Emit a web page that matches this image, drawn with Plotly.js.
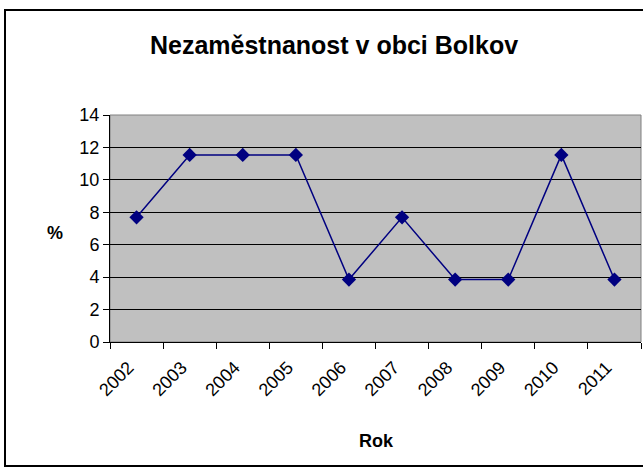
<!DOCTYPE html>
<html><head><meta charset="utf-8">
<script src="https://cdn.plot.ly/plotly-3.0.1.min.js"></script>
<style>html,body{margin:0;padding:0;background:#fff;}</style>
</head><body>
<div id="chart" style="width:643px;height:472px;"></div>
<script>
const years = ["2002","2003","2004","2005","2006","2007","2008","2009","2010","2011"];
const unemployment = [7.69, 11.54, 11.54, 11.54, 3.85, 7.69, 3.85, 3.85, 11.54, 3.85];
const yTicks = [0, 2, 4, 6, 8, 10, 12, 14];

const W = 643, H = 472;
const L = 110, R = 2, T = 115, B = 130;
const pw = W - L - R, ph = H - T - B;
const px = p => (p - L) / pw;
const py = p => (H - B - p) / ph;

const font = "Liberation Sans, Arial, sans-serif";

const trace = {
  x: years, y: unemployment, type: "scatter", mode: "lines+markers",
  line: {color: "#000080", width: 1.5},
  marker: {symbol: "diamond", size: 11, color: "#000080"},
  hoverinfo: "skip"
};

const layout = {
  width: W, height: H,
  margin: {l: L, r: R, t: T, b: B},
  paper_bgcolor: "#ffffff",
  plot_bgcolor: "#C0C0C0",
  showlegend: false,
  font: {family: font, color: "#000", size: 18},
  title: {
    text: "<b>Nezaměstnanost v obci Bolkov</b>",
    font: {family: font, size: 25, color: "#000"},
    x: 334 / W, xanchor: "center", xref: "container",
    y: 1 - 45 / H, yanchor: "middle", yref: "container"
  },
  xaxis: {
    type: "category", tickson: "boundaries", ticks: "outside", ticklen: 6,
    tickcolor: "#000", tickwidth: 1,
    showline: true, linecolor: "#000", linewidth: 1,
    showgrid: false, zeroline: false, tickangle: -45,
    ticklabelshift: -8, ticklabelstandoff: 7,
    tickfont: {family: font, size: 18, color: "#000"},
    range: [-0.5, 9.5], fixedrange: true
  },
  yaxis: {
    range: [0, 14], tickvals: yTicks, ticktext: yTicks.map(String),
    ticks: "outside", ticklen: 6, tickcolor: "#000", tickwidth: 1,
    showline: true, linecolor: "#000", linewidth: 1,
    showgrid: true, gridcolor: "#000", gridwidth: 1, zeroline: false,
    tickfont: {family: font, size: 18, color: "#000"},
    fixedrange: true
  },
  shapes: [
    {type: "rect", xref: "paper", yref: "paper", x0: 0, x1: 1, y0: 0, y1: 1,
     line: {color: "#808080", width: 1}, layer: "below"},
    {type: "rect", xref: "paper", yref: "paper",
     x0: px(5), x1: px(660), y0: py(466), y1: py(10),
     line: {color: "#000", width: 2}, fillcolor: "rgba(0,0,0,0)"}
  ],
  annotations: [
    {text: "<b>%</b>", xref: "paper", yref: "paper", x: px(55), y: py(233),
     xanchor: "center", yanchor: "middle", showarrow: false,
     font: {family: font, size: 18, color: "#000"}},
    {text: "<b>Rok</b>", xref: "paper", yref: "paper", x: px(376), y: py(441),
     xanchor: "center", yanchor: "middle", showarrow: false,
     font: {family: font, size: 18, color: "#000"}}
  ]
};

Plotly.newPlot("chart", [trace], layout, {staticPlot: true, displayModeBar: false});
</script>
</body></html>
